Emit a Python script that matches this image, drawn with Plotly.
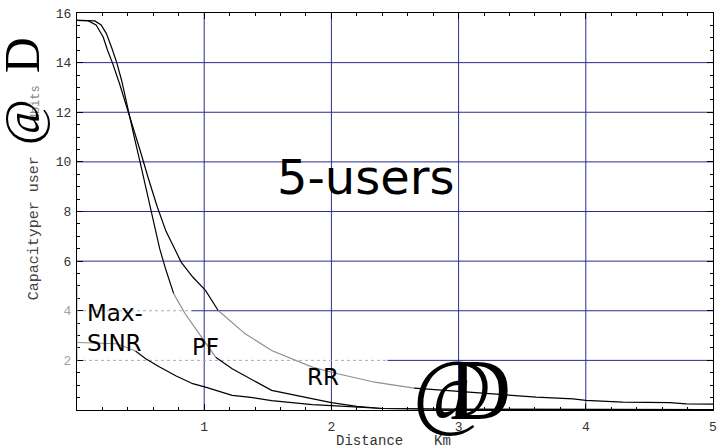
import plotly.graph_objects as go

# Capacity per user (Mbit/s) versus distance (km), 5 users, three schedulers
dist_rr = [0, 0.086, 0.15, 0.205, 0.24, 0.28, 0.334, 0.40, 0.45, 0.5, 0.56, 0.63,
           0.7, 0.78, 0.82, 0.91, 1.01, 1.11, 1.32, 1.53, 1.85, 2.05, 2.21, 2.34,
           2.65, 2.85, 3.0, 3.35, 3.61, 3.9, 4.0, 4.29, 4.66, 4.79, 5.0]
cap_rr = [15.7, 15.69, 15.52, 15.04, 14.5, 13.97, 13.16, 12.1, 11.25, 10.4, 9.35, 8.2,
          7.2, 6.4, 5.95, 5.36, 4.82, 4.01, 3.08, 2.4, 1.73, 1.46, 1.26, 1.12,
          0.88, 0.8, 0.74, 0.6, 0.52, 0.45, 0.39, 0.32, 0.3, 0.25, 0.24]

dist_pf = [0, 0.1, 0.14, 0.19, 0.23, 0.27, 0.31, 0.35, 0.40, 0.45, 0.5, 0.57, 0.65,
           0.70, 0.76, 0.85, 0.96, 1.09, 1.22, 1.53, 1.85, 2.0, 2.2, 2.4, 3.0, 4.0, 5.0]
cap_pf = [15.7, 15.7, 15.68, 15.52, 15.18, 14.64, 14.04, 13.3, 12.1, 11.0, 9.9, 8.35, 6.5,
          5.63, 4.69, 3.88, 3.08, 2.13, 1.66, 0.79, 0.45, 0.3, 0.15, 0.06, 0.03, 0.02, 0.02]

dist_ms = [0, 0.2, 0.31, 0.4, 0.46, 0.54, 0.65, 0.78, 0.91, 1.01, 1.22, 1.35, 1.53,
           1.85, 2.0, 2.2, 2.4, 3.0, 4.0, 5.0]
cap_ms = [2.72, 2.7, 2.67, 2.5, 2.38, 2.07, 1.73, 1.37, 1.06, 0.92, 0.59, 0.52, 0.38,
          0.22, 0.18, 0.12, 0.06, 0.03, 0.02, 0.02]

x_ticks = [1, 2, 3, 4, 5]
y_ticks = [2, 4, 6, 8, 10, 12, 14, 16]

INK = "black"
FADED = "#8f8f8f"
GRID = "#2c2c92"
GRID_FADED = "#a9a9c9"

fig = go.Figure()


def add_curve(xs, ys, fade_start, fade_end):
    """Draw one curve, with the washed-out stretch in light grey."""
    i0, i1 = xs.index(fade_start), xs.index(fade_end)
    for a, b, col in [(0, i0, INK), (i0, i1, FADED), (i1, len(xs) - 1, INK)]:
        if b > a:
            fig.add_trace(go.Scatter(x=xs[a:b + 1], y=ys[a:b + 1], mode="lines",
                                     line=dict(color=col, width=1.2),
                                     hoverinfo="skip", showlegend=False))


add_curve(dist_rr, cap_rr, 1.11, 2.65)
add_curve(dist_pf, cap_pf, 0.76, 1.09)
add_curve(dist_ms, cap_ms, 0, 0.46)

# grid lines
shapes = []
for xv in x_ticks[:-1]:
    shapes.append(dict(type="line", xref="x", yref="y", x0=xv, x1=xv, y0=0, y1=16,
                       line=dict(color=GRID, width=1), layer="below"))
faded_until = {4: 0.9, 2: 2.44}
for yv in y_ticks[:-1]:
    start = faded_until.get(yv, 0)
    if start > 0:
        shapes.append(dict(type="line", xref="x", yref="y", x0=0, x1=start, y0=yv, y1=yv,
                           line=dict(color=GRID_FADED, width=1, dash="dot"), layer="below"))
    shapes.append(dict(type="line", xref="x", yref="y", x0=start, x1=5, y0=yv, y1=yv,
                       line=dict(color=GRID, width=1), layer="below"))
# washed-out stretch of the left frame
shapes.append(dict(type="line", xref="x", yref="y", x0=0, x1=0, y0=2.0, y1=5.1,
                   line=dict(color="#b0b0b0", width=1.2), layer="above"))

tick_font = dict(family="Liberation Mono", size=13, color="#333333")
ylabels = [f"<span style='color:#a0a0a0'>{v}</span>" if v in (2, 4) else str(v) for v in y_ticks]

fig.update_xaxes(range=[0, 5], tickvals=x_ticks, ticktext=[str(v) for v in x_ticks],
                 ticks="inside", ticklen=6, tickcolor=INK, showline=True, linecolor=INK,
                 linewidth=1, mirror="ticks", showgrid=False, zeroline=False,
                 minor=dict(dtick=0.2, tick0=0, ticks="inside", ticklen=3, tickcolor=INK,
                            showgrid=False),
                 tickfont=tick_font, ticklabelstandoff=4)
fig.update_yaxes(range=[0, 16], tickvals=y_ticks, ticktext=ylabels,
                 ticks="inside", ticklen=6, tickcolor=INK, showline=True, linecolor=INK,
                 linewidth=1, mirror="ticks", showgrid=False, zeroline=False,
                 minor=dict(dtick=0.5, tick0=0, ticks="inside", ticklen=3, tickcolor=INK,
                            showgrid=False),
                 tickfont=tick_font, ticklabelstandoff=2)

sans = "DejaVu Sans"
serif = "Liberation Serif"
mono = "Liberation Mono"


def px_x(p):
    return (p - 77) / 640


def px_y(p):
    return (410 - p) / 397


annotations = [
    dict(text="5-users", x=2.27, y=9.4, xref="x", yref="y",
         font=dict(family=sans, size=48, color=INK)),
    dict(text="Max-<br>SINR", x=0.06, y=3.31, xref="x", yref="y", xanchor="left",
         align="left", font=dict(family=sans, size=23, color=INK)),
    dict(text="PF", x=1.01, y=2.54, xref="x", yref="y",
         font=dict(family=sans, size=23, color=INK)),
    dict(text="RR", x=1.93, y=1.35, xref="x", yref="y",
         font=dict(family=sans, size=23, color=INK)),
    # axis titles
    dict(text="Distance", x=px_x(371.5), y=px_y(441), xref="paper", yref="paper",
         font=dict(family=mono, size=14, color="#333333")),
    dict(text="Km", x=px_x(445), y=px_y(441), xref="paper", yref="paper",
         font=dict(family=mono, size=14, color="#333333")),
    dict(text="@", x=px_x(455), y=px_y(390), xref="paper", yref="paper",
         font=dict(family=serif, size=86, color=INK)),
    dict(text="D", x=px_x(483), y=px_y(390), xref="paper", yref="paper",
         font=dict(family=serif, size=86, color=INK)),
    dict(text="Capacityper user", x=px_x(34), y=px_y(228), xref="paper", yref="paper",
         textangle=-90, font=dict(family=mono, size=15, color="#444444")),
    dict(text="Mbits", x=px_x(36), y=px_y(103), xref="paper", yref="paper",
         textangle=-90, font=dict(family=mono, size=12, color="#888888")),
    dict(text="@", x=px_x(22), y=px_y(122), xref="paper", yref="paper",
         textangle=-90, font=dict(family=serif, size=50, color=INK)),
    dict(text="D", x=px_x(22), y=px_y(55), xref="paper", yref="paper",
         textangle=-90, font=dict(family=serif, size=50, color=INK)),
]
for a in annotations:
    a.setdefault("showarrow", False)
    a.setdefault("xanchor", "center")
    a.setdefault("yanchor", "middle")

fig.update_layout(width=721, height=448, margin=dict(l=77, r=4, t=13, b=38),
                  paper_bgcolor="white", plot_bgcolor="white", showlegend=False,
                  shapes=shapes, annotations=annotations)

fig.write_html("out.html")
